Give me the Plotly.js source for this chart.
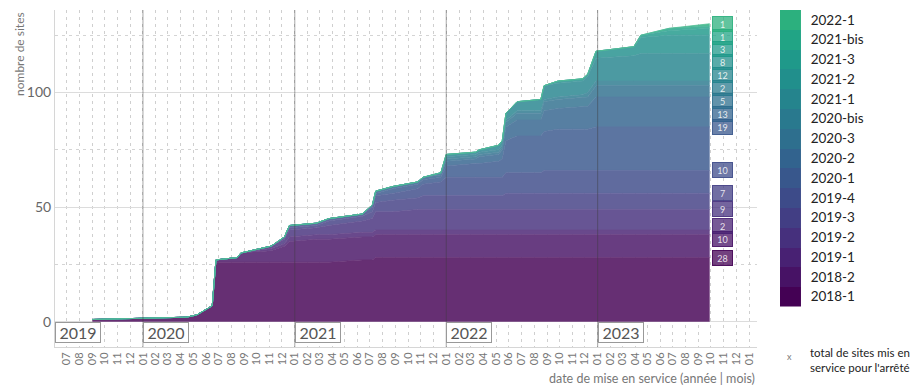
<!DOCTYPE html>
<html>
<head>
<meta charset="utf-8">
<script src="https://cdn.plot.ly/plotly-3.0.1.min.js"></script>
<style>html,body{margin:0;padding:0;background:#fff;}#chart{width:916px;height:385px;}</style>
</head>
<body>
<div id="chart"></div>
<script>
// ---- data ----
const dates = ["2019-09-01","2020-04-15","2020-05-10","2020-06-16","2020-06-25","2020-08-15","2020-08-24","2020-11-05","2020-12-07","2020-12-19","2021-02-22","2021-03-24","2021-06-13","2021-07-07","2021-07-15","2021-08-25","2021-10-24","2021-11-06","2021-12-19","2022-01-01","2022-03-13","2022-03-21","2022-05-07","2022-05-16","2022-05-25","2022-06-21","2022-08-17","2022-08-25","2022-09-27","2022-11-26","2022-12-08","2022-12-28","2023-03-29","2023-04-15","2023-06-22","2023-09-28"];

const arreteNames = ["2018-1","2018-2","2019-1","2019-2","2019-3","2019-4","2020-1","2020-2","2020-3","2020-bis","2021-1","2021-2","2021-3","2021-bis","2022-1"];

const s2018_1 = [1,2,3,7,26,26,26,26,26,26,26,26,27,27,28,28,28,28,28,28,28,28,28,28,28,28,28,28,28,28,28,28,28,28,28,28];
const s2018_2 = [0,0,0,0,1,2,4,5,7,9,10,10,10,10,10,10,10,10,10,10,10,10,10,10,10,10,10,10,10,10,10,10,10,10,10,10];
const s2019_1 = [0,0,0,0,0,0,0,1,1,2,2,2,2,2,2,2,2,2,2,2,2,2,2,2,2,2,2,2,2,2,2,2,2,2,2,2];
const s2019_2 = [0,0,0,0,0,0,0,1,2,3,3,4,5,6,8,8,9,9,9,9,9,9,9,9,9,9,9,9,9,9,9,9,9,9,9,9];
const s2019_3 = [0,0,0,0,0,0,0,0,1,1,1,2,2,3,4,5,5,6,6,6,6,6,6,6,7,7,7,7,7,7,7,7,7,7,7,7];
const s2019_4 = [0,0,0,0,0,0,0,0,0,1,1,1,1,2,3,3,4,5,6,8,8,8,8,8,9,9,9,10,10,10,10,10,10,10,10,10];
const s2020_1 = [0,0,0,0,0,0,0,0,0,0,0,0,0,1,1,2,2,2,2,5,6,6,7,8,14,16,16,17,18,18,18,19,19,19,19,19];
const s2020_2 = [0,0,0,0,0,0,0,0,0,0,0,0,0,0,1,1,1,1,1,2,2,3,3,4,6,7,7,9,9,10,10,13,13,13,13,13];
const s2020_3 = [0,0,0,0,0,0,0,0,0,0,0,0,0,0,0,0,0,0,1,1,1,1,1,1,2,3,3,4,4,4,4,5,5,5,5,5];
const s2020_bis = [0,0,0,0,0,0,0,0,0,0,0,0,0,0,0,0,0,0,0,1,1,1,1,1,1,1,1,1,1,1,2,2,2,2,2,2];
const s2021_1 = [0,0,0,0,0,0,0,0,0,0,0,0,0,0,0,0,0,0,0,1,1,1,2,2,3,4,5,6,6,6,7,10,11,12,12,12];
const s2021_2 = [0,0,0,0,0,0,0,0,0,0,0,0,0,0,0,0,0,0,0,0,0,0,0,0,0,0,0,0,1,1,1,3,4,7,8,8];
const s2021_3 = [0,0,0,0,0,0,0,0,0,0,0,0,0,0,0,0,0,0,0,0,0,0,0,0,0,0,0,0,0,0,0,0,0,1,2,3];
const s2021_bis = [0,0,0,0,0,0,0,0,0,0,0,0,0,0,0,0,0,0,0,0,0,0,0,0,0,0,0,0,0,0,0,0,0,0,1,1];
const s2022_1 = [0,0,0,0,0,0,0,0,0,0,0,0,0,0,0,0,0,0,0,0,0,0,0,0,0,0,0,0,0,0,0,0,0,0,0,1];

const seriesValues = [s2018_1,s2018_2,s2019_1,s2019_2,s2019_3,s2019_4,s2020_1,s2020_2,s2020_3,s2020_bis,s2021_1,s2021_2,s2021_3,s2021_bis,s2022_1];

const yearLabels = ["2019","2020","2021","2022","2023"];
const yearLines = ["2020-01-01","2021-01-01","2022-01-01","2023-01-01"];
const yTickVals = [0, 50, 100];

// ---- styles ----
const colors = ["#440154","#471265","#482173","#46307d","#423e84","#3d4b89","#38578c","#32638e","#2e6f8e","#29798e","#25848d","#218f8c","#1f998a","#21a485","#2cb07e"];
function rgba(hex, a){const r=parseInt(hex.slice(1,3),16),g=parseInt(hex.slice(3,5),16),b=parseInt(hex.slice(5,7),16);return `rgba(${r},${g},${b},${a})`;}
function blend(hex, a){const c=[1,3,5].map(k=>parseInt(hex.slice(k,k+2),16)).map(v=>Math.round(v*a+255*(1-a)));return `rgb(${c[0]},${c[1]},${c[2]})`;}

const xStart = "2019-06-03", xEnd = "2024-01-20";
const FONT = "Lato, 'Open Sans', sans-serif";

const traces = seriesValues.map((vals,i)=>({
  type:"scatter", mode:"lines", x:dates, y:vals, stackgroup:"one",
  line:{width:0.8, color:blend(colors[i],0.82)}, fillcolor:blend(colors[i],0.82),
  name:arreteNames[i], showlegend:false, hoverinfo:"x+y+name"
}));

// legend as a heatmap column
traces.push({
  type:"heatmap", xaxis:"x2", yaxis:"y2",
  x:[0], y:arreteNames, z:arreteNames.map((_,i)=>[i]),
  zmin:0, zmax:arreteNames.length-1,
  colorscale:colors.map((c,i)=>[i/(colors.length-1), c]),
  showscale:false, hoverinfo:"skip", ygap:0
});

// ---- right-side labels with simple repel ----
const finals = seriesValues.map(v=>v[v.length-1]);
const tops = []; let acc=0; finals.forEach(f=>{acc+=f; tops.push(acc);});
const pos = tops.slice(); const gap=5.6, maxY=130;
for(let it=0; it<400; it++){
  for(let i=1;i<pos.length;i++){
    const d = pos[i]-pos[i-1];
    if(d<gap){const m=(gap-d)/2; pos[i]+=m; pos[i-1]-=m;}
  }
  for(let i=0;i<pos.length;i++){ if(pos[i]>maxY) pos[i]=maxY; }
}
const lastDate = dates[dates.length-1];
const annotations = [];
finals.forEach((f,i)=>{
  annotations.push({x:lastDate, y:pos[i], xref:"x", yref:"y", text:String(f), showarrow:false,
    xanchor:"center", yanchor:"middle", xshift:13,
    font:{family:FONT, size:9, color:"rgba(255,255,255,0.85)"},
    bgcolor:rgba(colors[i],0.75), bordercolor:rgba(colors[i],0.9), borderwidth:1, borderpad:1.5, width:16, height:11});
});
// year boxes
yearLabels.forEach(y=>{
  const xd = (y+"-01-01" < xStart) ? xStart : y+"-01-01";
  annotations.push({x:xd, y:0, xref:"x", yref:"y", text:y, showarrow:false, xanchor:"left", yanchor:"top",
    font:{family:FONT, size:16, color:"#555"}, bgcolor:"#fff", bordercolor:"#999", borderwidth:1, borderpad:0, width:44});
});
// titles
annotations.push({xref:"paper", yref:"paper", x:-0.0483, y:1, xanchor:"center", yanchor:"top", textangle:-90,
  text:"nombre de sites", showarrow:false, font:{family:FONT, size:12, color:"#777"}});
annotations.push({xref:"paper", yref:"paper", x:0.941, y:-0.092, xanchor:"right", yanchor:"middle",
  text:"date de mise en service (année | mois)", showarrow:false, font:{family:FONT, size:12.5, color:"#777"}});
// extra legend entry
annotations.push({xref:"paper", yref:"paper", x:0.985, y:-0.027, xanchor:"center", yanchor:"middle",
  text:"x", showarrow:false, font:{family:FONT, size:9, color:"#777"}});
annotations.push({xref:"paper", yref:"paper", x:1.0094, y:-0.04, xanchor:"left", yanchor:"middle", align:"left",
  text:"total de sites mis en<br>service pour l'arrêté", showarrow:false, font:{family:FONT, size:11.5, color:"#222"}});

const shapes = yearLines.map(d=>({type:"line", xref:"x", yref:"paper", x0:d, x1:d, y0:0, y1:1,
  line:{color:"rgba(60,60,60,0.45)", width:1}, layer:"above"}));

const layout = {
  width:916, height:385,
  margin:{l:55, r:115, t:10, b:38},
  paper_bgcolor:"#fff", plot_bgcolor:"#fff",
  font:{family:FONT, color:"#666"},
  xaxis:{type:"date", domain:[0,0.941], range:[xStart,xEnd], dtick:"M1", tick0:"2019-07-01", tickformat:"%m",
    tickangle:-90, tickfont:{family:FONT, size:11, color:"#777"}, ticks:"",
    showgrid:true, gridcolor:"#cfcfcf", griddash:"3px,4px", gridwidth:1,
    showline:true, linecolor:"#d6d6d6", zeroline:false, anchor:"y"},
  yaxis:{range:[-11,136], tickvals:yTickVals, tickfont:{family:FONT, size:14, color:"#666"}, ticks:"",
    showgrid:true, gridcolor:"#dcdcdc", gridwidth:1,
    minor:{dtick:25, tick0:0, showgrid:true, gridcolor:"#d4d4d4", griddash:"3px,4px", gridwidth:1},
    showline:true, linecolor:"#d6d6d6", zeroline:false, anchor:"x"},
  xaxis2:{domain:[0.9718,1], anchor:"y2", visible:false, fixedrange:true},
  yaxis2:{domain:[0.12,1], anchor:"x2", type:"category", categoryorder:"array", categoryarray:arreteNames,
    side:"right", showgrid:false, zeroline:false, showline:false, ticks:"outside", ticklen:6, tickcolor:"rgba(0,0,0,0)",
    tickfont:{family:FONT, size:13.5, color:"#222"}},
  shapes:shapes,
  annotations:annotations,
  showlegend:false
};

Plotly.newPlot("chart", traces, layout, {displayModeBar:false, staticPlot:true});
</script>
</body>
</html>
